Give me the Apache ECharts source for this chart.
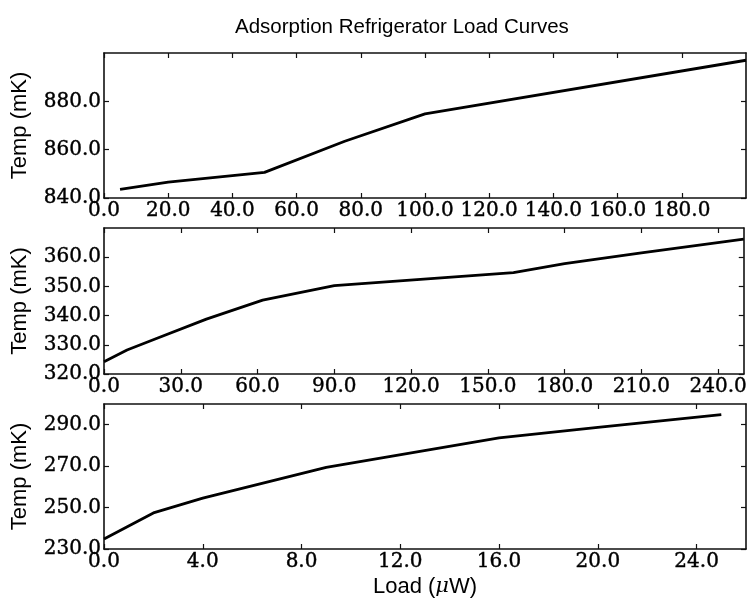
<!DOCTYPE html>
<html>
<head>
<meta charset="utf-8">
<script src="https://cdn.jsdelivr.net/npm/echarts@6/dist/echarts.min.js"></script>
<style>html,body{margin:0;padding:0;background:#fff}#c{width:750px;height:606px}</style>
</head>
<body>
<div id="c"></div>
<script>
// ---- data ----
const titleText = 'Adsorption Refrigerator Load Curves';
const yName = 'Temp (mK)';

const topLoad = [5, 20, 50, 75, 100, 200];
const topTemp = [843.6, 846.6, 850.6, 863.5, 874.8, 897.0];

const midLoad = [0, 9, 20, 40, 62, 90, 160, 180, 210, 250];
const midTemp = [324.2, 328.2, 332.0, 338.8, 345.3, 350.3, 354.7, 357.8, 361.5, 366.2];

const botLoad = [0, 2, 4, 9, 16, 20, 25];
const botTemp = [234.8, 247.4, 254.6, 269.4, 283.6, 288.7, 294.9];

const topXTicks = [0, 20, 40, 60, 80, 100, 120, 140, 160, 180];
const midXTicks = [0, 30, 60, 90, 120, 150, 180, 210, 240];
const botXTicks = [0, 4, 8, 12, 16, 20, 24];
const topYTicks = [840, 860, 880];
const midYTicks = [320, 330, 340, 350, 360];
const botYTicks = [230, 250, 270, 290];

const xRanges = [[0, 200], [0, 250], [0, 26]];
const yRanges = [[840, 900], [320, 370], [230, 300]];

// ---- layout ----
const grids = [
  {left: 104, right: 4, top: 53, height: 145},
  {left: 104, right: 4, top: 228, height: 146},
  {left: 104, right: 4, top: 404, height: 145}
];

const serif = 'DejaVu Serif';
const sans = 'Liberation Sans';
const lineCol = '#111';
const fmt = v => Number(v).toFixed(1);
const tickFont = {fontFamily: serif, fontSize: 20, color: '#000',
  textBorderColor: '#000', textBorderWidth: 0.4};

const xTicksAll = [topXTicks, midXTicks, botXTicks];
const yTicksAll = [topYTicks, midYTicks, botYTicks];
const loads = [topLoad, midLoad, botLoad];
const temps = [topTemp, midTemp, botTemp];

const xAxis = [], yAxis = [], series = [];
for (let i = 0; i < 3; i++) {
  const baseX = {
    type: 'value', gridIndex: i, min: xRanges[i][0], max: xRanges[i][1],
    splitLine: {show: false},
    axisLine: {show: true, onZero: false, lineStyle: {color: lineCol, width: 1.6}},
    axisTick: {show: true, inside: true, length: 5, customValues: xTicksAll[i], lineStyle: {color: lineCol, width: 1.2}}
  };
  xAxis.push(Object.assign({}, baseX, {
    position: 'bottom',
    axisLabel: Object.assign({show: true, customValues: xTicksAll[i], formatter: fmt, margin: 3}, tickFont),
    name: i === 2 ? '{n|Load (}{mu|μ}{n|W)}' : '',
    nameLocation: 'middle', nameGap: 27,
    nameTextStyle: {fontFamily: sans, fontSize: 22, color: '#000',
      rich: {n: {fontFamily: sans, fontSize: 22, color: '#000'},
             mu: {fontFamily: 'DejaVu Serif', fontStyle: 'italic', fontSize: 21, color: '#000'}}}
  }));
  xAxis.push(Object.assign({}, baseX, {
    position: 'top', axisLabel: {show: false}
  }));
  const baseY = {
    type: 'value', gridIndex: i, min: yRanges[i][0], max: yRanges[i][1],
    splitLine: {show: false},
    axisLine: {show: true, onZero: false, lineStyle: {color: lineCol, width: 1.6}},
    axisTick: {show: true, inside: true, length: 5, customValues: yTicksAll[i], lineStyle: {color: lineCol, width: 1.2}}
  };
  yAxis.push(Object.assign({}, baseY, {
    position: 'left',
    axisLabel: Object.assign({show: true, customValues: yTicksAll[i], formatter: fmt, margin: 3}, tickFont),
    name: yName, nameLocation: 'middle', nameGap: 73, nameRotate: 90,
    nameTextStyle: {fontFamily: sans, fontSize: 22, color: '#000'}
  }));
  yAxis.push(Object.assign({}, baseY, {
    position: 'right', axisLabel: {show: false}
  }));
  series.push({
    type: 'line', xAxisIndex: 2 * i, yAxisIndex: 2 * i,
    data: loads[i].map((x, k) => [x, temps[i][k]]),
    showSymbol: false, symbol: 'none', animation: false,
    lineStyle: {color: '#000', width: 2.8}
  });
}

const chart = echarts.init(document.getElementById('c'), null, {renderer: 'canvas'});
chart.setOption({
  animation: false,
  backgroundColor: '#fff',
  title: {text: titleText, left: 230, top: 12,
    textStyle: {fontFamily: sans, fontSize: 20.5, fontWeight: 'normal', color: '#000'}},
  grid: grids,
  xAxis: xAxis,
  yAxis: yAxis,
  series: series
});
</script>
</body>
</html>
